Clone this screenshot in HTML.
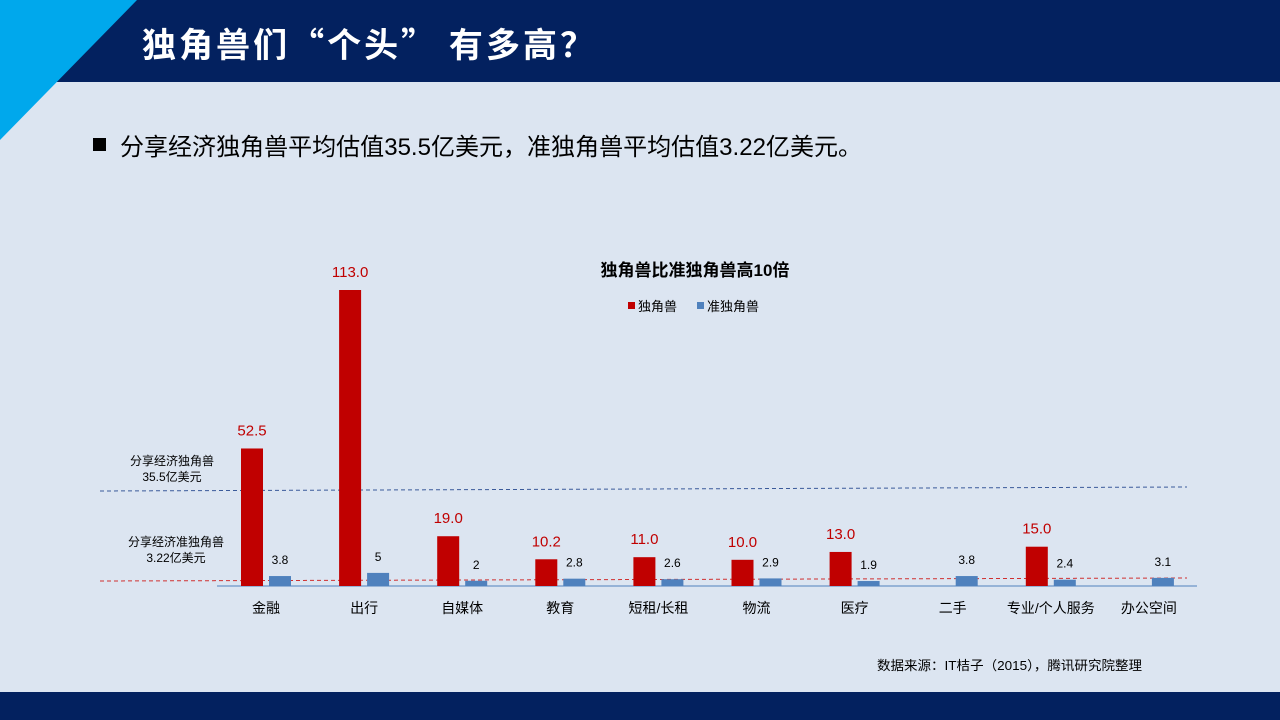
<!DOCTYPE html>
<html><head><meta charset="utf-8"><style>
body{margin:0;width:1280px;height:720px;overflow:hidden;background:#dce5f1;font-family:"Liberation Sans","Noto Sans CJK SC",sans-serif;}
svg{display:block}
</style></head><body>
<svg width="1280" height="720">
<rect x="0" y="0" width="1280" height="720" fill="#dce5f1"/>
<rect x="0" y="0" width="1280" height="82" fill="#03215f"/>
<polygon points="0,0 137,0 0,140" fill="#00a8ec"/>
<text x="142" y="57" fill="#fff" font-size="34" font-weight="bold" textLength="452" lengthAdjust="spacing" font-family="'Noto Sans CJK SC',sans-serif">独角兽们“个头” 有多高？</text>
<rect x="93" y="138" width="13" height="13" fill="#000"/>
<text x="120" y="155" font-size="24" fill="#000" textLength="742" lengthAdjust="spacingAndGlyphs">分享经济独角兽平均估值35.5亿美元，准独角兽平均估值3.22亿美元。</text>
<text x="695" y="276" text-anchor="middle" font-size="17" font-weight="bold" fill="#000">独角兽比准独角兽高10倍</text>
<g>
<rect x="628" y="302" width="7" height="7" fill="#c00000"/><text x="638" y="311" font-size="13">独角兽</text>
<rect x="697" y="302" width="7" height="7" fill="#4f81bd"/><text x="707" y="311" font-size="13">准独角兽</text>
</g>
<line x1="100" y1="491" x2="1187" y2="487" stroke="#3a5a9a" stroke-width="1" stroke-dasharray="4,3"/>
<line x1="100" y1="581" x2="1187" y2="578" stroke="#d03030" stroke-width="1" stroke-dasharray="4,3"/>
<text x="172" y="465" text-anchor="middle" font-size="12">分享经济独角兽</text>
<text x="172" y="481" text-anchor="middle" font-size="12">35.5亿美元</text>
<text x="176" y="546" text-anchor="middle" font-size="12">分享经济准独角兽</text>
<text x="176" y="562" text-anchor="middle" font-size="12">3.22亿美元</text>
<g id="plot"></g>
<text x="877" y="670" font-size="13" textLength="265" lengthAdjust="spacingAndGlyphs">数据来源：IT桔子（2015），腾讯研究院整理</text>
<rect x="0" y="692" width="1280" height="28" fill="#03215f"/>
</svg>
<script>
const categories=["金融","出行","自媒体","教育","短租/长租","物流","医疗","二手","专业/个人服务","办公空间"];
const unicorn=[52.5,113.0,19.0,10.2,11.0,10.0,13.0,null,15.0,null];
const quasi=[3.8,5,2,2.8,2.6,2.9,1.9,3.8,2.4,3.1];
const unicornLabels=["52.5","113.0","19.0","10.2","11.0","10.0","13.0","","15.0",""];
const quasiLabels=["3.8","5","2","2.8","2.6","2.9","1.9","3.8","2.4","3.1"];
const NS="http://www.w3.org/2000/svg";
const g=document.getElementById('plot');
const base=586, k=296/113;
function y(v){return base-v*k;}
function x(i){return 266+i*98.1;}
function mk(t,a){const e=document.createElementNS(NS,t);for(const n in a)e.setAttribute(n,a[n]);g.appendChild(e);return e;}
const ax=mk('line',{x1:217,y1:base,x2:1197,y2:base,stroke:'#4f81bd','stroke-width':1});


categories.forEach((c,i)=>{
  const cx=x(i);
  if(unicorn[i]!=null){
    const r=mk('rect',{x:cx-25,y:y(unicorn[i]),width:22,height:unicorn[i]*k,fill:'#c00000'});
    
    
    const t=mk('text',{x:cx-14,y:y(unicorn[i])-13,'text-anchor':'middle','font-size':15,fill:'#c00000'});
    t.textContent=unicornLabels[i];
    
    
  }
  const b=mk('rect',{x:cx+3,y:y(quasi[i]),width:22,height:quasi[i]*k,fill:'#4f81bd'});
  
  
  const qt=mk('text',{x:cx+14,y:y(quasi[i])-12,'text-anchor':'middle','font-size':12,fill:'#000'});
  qt.textContent=quasiLabels[i];
  
  
  const ct=mk('text',{x:cx,y:613,'text-anchor':'middle','font-size':14,fill:'#000'});
  ct.textContent=c;
  
  
});
</script>
</body></html>
